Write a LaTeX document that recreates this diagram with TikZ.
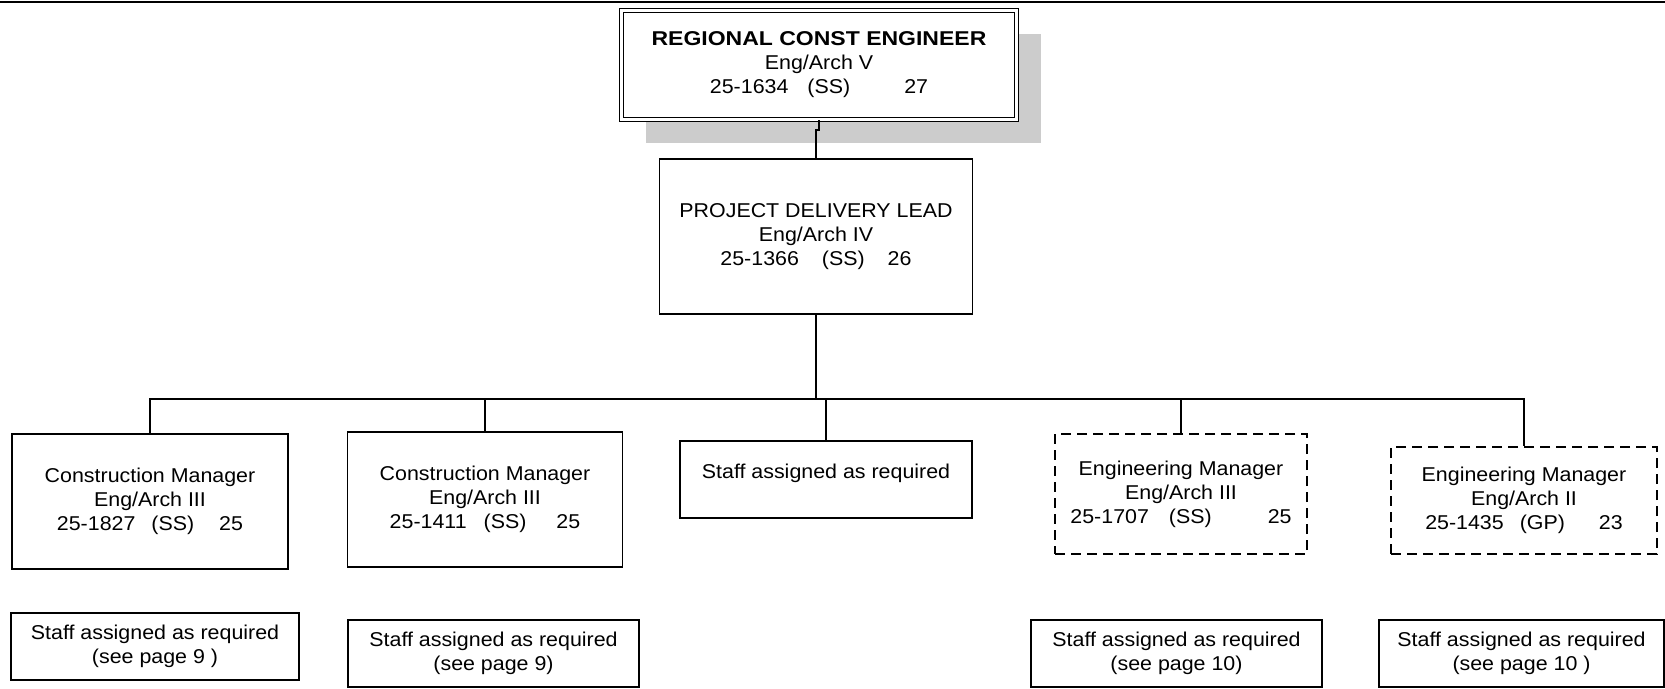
\documentclass[tikz,border=0pt]{standalone}
\usepackage{fontspec}
\setmainfont{Liberation Sans}[FakeStretch=1.07]
\newfontface\headfont{Liberation Sans Bold}[FakeStretch=1.15]
\usetikzlibrary{shadows}

\begin{document}
\begin{tikzpicture}[x=1pt,y=-1pt,line width=1.5pt,
    every node/.style={font=\fontsize{20}{24}\selectfont},
    box/.style={draw,rectangle,line width=1.4pt,align=center,inner sep=0pt},
    dashbox/.style={box,dash pattern=on 10pt off 6pt}]
        \useasboundingbox (0,0) rectangle (1665,688);
        \draw[line width=1.6pt] (0,2) -- (1665,2);

        % head of the region
        \node (top) at (819,65) [box,double,double distance=3pt,fill=white,minimum width=395pt,minimum height=109pt,
            drop shadow={shadow xshift=24pt,shadow yshift=-23pt,fill=black!20,opacity=1}]
            {{\headfont REGIONAL CONST ENGINEER}\\Eng/Arch V\\25-1634\hspace{19pt}(SS)\hspace{54pt}27};
        \node (pdl) at (816,236.5) [box,minimum width=313pt,minimum height=155pt]
            {PROJECT DELIVERY LEAD\\Eng/Arch IV\\25-1366\hspace{23pt}(SS)\hspace{23pt}26};

        % managers
        \node (cm1) at (150,501.5) [box,minimum width=276pt,minimum height=135pt]
            {Construction Manager\\Eng/Arch III\\25-1827\hspace{16pt}(SS)\hspace{25pt}25};
        \node (cm2) at (485,499.5) [box,minimum width=275pt,minimum height=135pt]
            {Construction Manager\\Eng/Arch III\\25-1411\hspace{17pt}(SS)\hspace{30pt}25};
        \node (staff) at (826,479.5) [box,minimum width=292pt,minimum height=77pt,text height=15pt,text depth=18pt]
            {Staff assigned as required};
        \node (em1) at (1181,494) [dashbox,minimum width=252pt,minimum height=120pt]
            {Engineering Manager\\Eng/Arch III\\25-1707\hspace{20pt}(SS)\hspace{56pt}25};
        \node (em2) at (1524,500.5) [dashbox,minimum width=266pt,minimum height=107pt]
            {Engineering Manager\\Eng/Arch II\\25-1435\hspace{16pt}(GP)\hspace{34pt}23};

        % staff pools
        \node (b1) at (155,646.5) [box,minimum width=288pt,minimum height=67pt]
            {Staff assigned as required\\(see page 9 )};
        \node (b2) at (493.5,653.5) [box,minimum width=291pt,minimum height=67pt]
            {Staff assigned as required\\(see page 9)};
        \node (b3) at (1176.5,653.5) [box,minimum width=291pt,minimum height=67pt]
            {Staff assigned as required\\(see page 10)};
        \node (b4) at (1521.5,653.5) [box,minimum width=285pt,minimum height=67pt]
            {Staff assigned as required\\(see page 10 )};

        \coordinate (bus) at (816,399);
        \draw (top.south) -- ++(0,10) -| (pdl.north);
        \draw (pdl.south) -- (bus);
        \foreach \n in {cm1,cm2,staff,em1,em2}
            \draw (bus) -| (\n.north);
\end{tikzpicture}
\end{document}
